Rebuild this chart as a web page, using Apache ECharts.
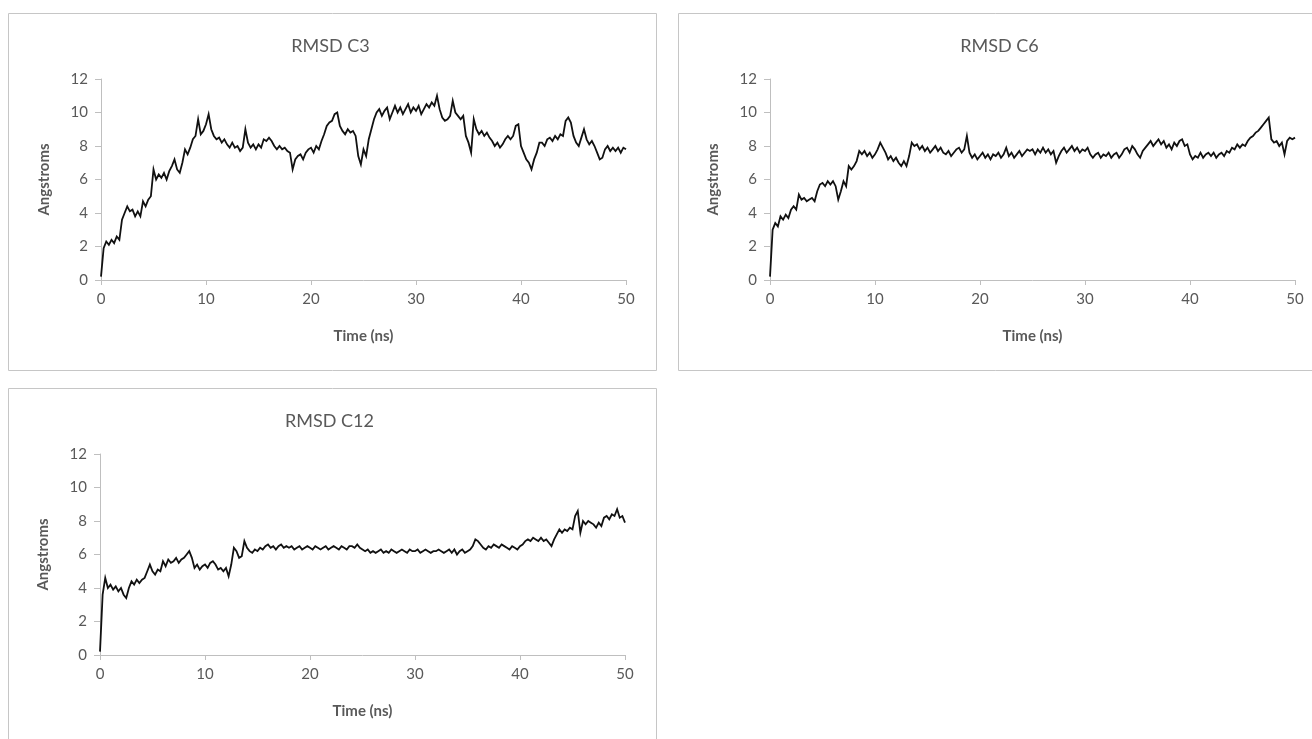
<!DOCTYPE html>
<html>
<head>
<meta charset="utf-8">
<script src="https://cdn.jsdelivr.net/npm/echarts@6/dist/echarts.min.js"></script>
<style>
html,body{margin:0;padding:0;background:#fff;}
#c{width:1312px;height:739px;}
</style>
</head>
<body>
<div id="c"></div>
<script>
// time step between samples (ns)
const timeStep = 0.25;
const titles = ["RMSD C3", "RMSD C6", "RMSD C12"];
const xTicks = [0, 10, 20, 30, 40, 50];
const yTicks = [0, 2, 4, 6, 8, 10, 12];
const xName = "Time (ns)";
const yName = "Angstroms";

const rmsdC3 = [
0.2,1.9,2.3,2.1, 2.4,2.2,2.6,2.4, 3.6,4.0,4.4,4.1, 4.2,3.8,4.1,3.8, 4.7,4.4,4.8,5.0,
6.6,6.0,6.3,6.1, 6.4,6.0,6.5,6.8, 7.2,6.6,6.4,7.0, 7.8,7.5,7.9,8.4, 8.6,9.6,8.7,8.9,
9.3,9.9,9.0,8.6, 8.4,8.5,8.2,8.4, 8.1,7.9,8.2,7.9, 8.0,7.7,7.9,9.0, 8.2,7.9,8.1,7.8,
8.1,7.9,8.4,8.3, 8.5,8.3,8.0,7.8, 8.0,7.8,7.9,7.7, 7.6,6.6,7.2,7.4, 7.5,7.2,7.6,7.8,
7.9,7.6,8.0,7.8, 8.3,8.7,9.2,9.4, 9.5,9.9,10.0,9.2, 8.9,8.7,9.0,8.8, 8.9,8.6,7.4,6.9,
7.8,7.4,8.4,9.0, 9.6,10.0,10.2,9.8, 10.1,10.3,9.6,10.0, 10.4,10.0,10.3,9.9, 10.2,10.5,10.0,10.3,
10.1,10.4,9.9,10.2, 10.5,10.3,10.6,10.4, 11.0,10.2,9.7,9.5, 9.6,9.8,10.7,10.0, 9.8,9.6,9.8,8.6,
8.2,7.6,9.6,9.0, 8.7,8.9,8.6,8.8, 8.5,8.3,8.0,8.2, 7.9,8.1,8.4,8.6, 8.4,8.6,9.2,9.3,
8.0,7.6,7.2,7.0, 6.6,7.2,7.6,8.2, 8.2,8.0,8.4,8.5, 8.3,8.6,8.4,8.7, 8.6,9.5,9.7,9.4,
8.6,8.2,8.0,8.5, 9.0,8.4,8.1,8.3, 8.0,7.6,7.2,7.3, 7.8,8.0,7.7,7.9, 7.7,7.9,7.6,7.9,
7.8
];

const rmsdC6 = [
0.2,3.0,3.4,3.2, 3.8,3.6,3.9,3.7, 4.2,4.4,4.2,5.1, 4.8,4.9,4.7,4.8, 4.9,4.7,5.3,5.7,
5.8,5.6,5.9,5.7, 5.9,5.6,4.8,5.3, 5.9,5.6,6.8,6.6, 6.8,7.1,7.7,7.5, 7.7,7.4,7.6,7.3,
7.5,7.8,8.2,7.9, 7.6,7.2,7.4,7.1, 7.3,7.0,6.8,7.1, 6.8,7.4,8.2,8.0, 8.1,7.8,8.0,7.7,
7.9,7.6,7.8,8.0, 7.7,7.9,7.6,7.5, 7.7,7.4,7.6,7.8, 7.9,7.6,7.8,8.6, 7.6,7.3,7.5,7.2,
7.4,7.6,7.3,7.5, 7.2,7.5,7.4,7.6, 7.3,7.5,7.9,7.4, 7.6,7.3,7.5,7.7, 7.4,7.6,7.8,7.7,
7.8,7.5,7.8,7.6, 7.9,7.6,7.8,7.5, 7.7,7.0,7.4,7.7, 7.9,7.6,7.8,8.0, 7.7,7.9,7.6,7.8,
7.7,7.9,7.5,7.3, 7.5,7.6,7.3,7.5, 7.4,7.6,7.3,7.5, 7.6,7.3,7.5,7.8, 7.9,7.6,8.0,7.8,
7.5,7.3,7.7,7.9, 8.1,8.3,8.0,8.2, 8.4,8.1,8.3,7.9, 8.1,7.8,8.2,8.0, 8.3,8.4,8.0,8.1,
7.5,7.2,7.4,7.3, 7.6,7.3,7.5,7.6, 7.4,7.6,7.3,7.5, 7.6,7.4,7.7,7.6, 7.9,7.8,8.1,7.9,
8.1,8.0,8.3,8.5, 8.6,8.8,8.9,9.1, 9.3,9.5,9.7,8.4, 8.2,8.3,8.0,8.2, 7.5,8.3,8.5,8.4,
8.5
];

const rmsdC12 = [
0.2,3.6,4.6,4.0, 4.2,3.9,4.1,3.8, 4.0,3.6,3.4,4.0, 4.4,4.2,4.5,4.3, 4.5,4.6,5.0,5.4,
5.0,4.8,5.1,5.0, 5.6,5.3,5.7,5.5, 5.6,5.8,5.5,5.7, 5.8,6.0,6.2,5.8, 5.2,5.4,5.1,5.3,
5.4,5.2,5.5,5.6, 5.4,5.1,5.2,5.0, 5.2,4.7,5.4,6.4, 6.2,5.8,5.9,6.8, 6.4,6.2,6.1,6.3,
6.2,6.4,6.3,6.5, 6.6,6.4,6.5,6.3, 6.5,6.6,6.4,6.5, 6.4,6.5,6.3,6.4, 6.5,6.3,6.4,6.5,
6.4,6.3,6.5,6.4, 6.3,6.4,6.5,6.3, 6.4,6.5,6.4,6.3, 6.5,6.4,6.3,6.5, 6.5,6.4,6.6,6.4,
6.3,6.2,6.3,6.1, 6.2,6.1,6.2,6.3, 6.1,6.2,6.1,6.3, 6.2,6.1,6.2,6.3, 6.2,6.1,6.3,6.2,
6.2,6.3,6.1,6.2, 6.3,6.2,6.1,6.2, 6.2,6.3,6.2,6.1, 6.2,6.3,6.1,6.3, 6.0,6.2,6.3,6.1,
6.2,6.3,6.5,6.9, 6.8,6.6,6.4,6.3, 6.5,6.4,6.6,6.5, 6.4,6.6,6.5,6.4, 6.3,6.5,6.4,6.3,
6.5,6.6,6.8,6.9, 6.8,7.0,6.9,6.8, 7.0,6.8,6.9,6.7, 6.5,6.9,7.2,7.5, 7.3,7.5,7.4,7.6,
7.5,8.3,8.6,7.3, 8.0,7.8,8.0,7.9, 7.8,7.6,7.9,7.7, 8.2,8.3,8.1,8.4, 8.3,8.7,8.2,8.3,
7.9
];

const seriesData = [rmsdC3, rmsdC6, rmsdC12];

const font = "Lato, 'Open Sans', sans-serif";
const grey = "#595959";
const axisGrey = "#bfbfbf";

// panel layout (box and plot area)
const panels = [
  {box:[8,13,648,357], grid:{left:101, top:79, width:525, height:201}},
  {box:[678,13,640,357], grid:{left:770, top:79, width:525, height:201}},
  {box:[8,388,648,360], grid:{left:100, top:454, width:525, height:201}}
];

const chart = echarts.init(document.getElementById('c'), null, {renderer:'canvas'});

const option = {
  animation:false,
  backgroundColor:'#fff',
  graphic: panels.map(p => ({
    type:'rect', shape:{x:p.box[0]+0.5, y:p.box[1]+0.5, width:p.box[2], height:p.box[3]},
    style:{fill:'#fff', stroke:'#c6c6c6', lineWidth:1}, z:-10, silent:true
  })),
  title: panels.map((p,i) => ({
    text: titles[i],
    left: p.grid.left + p.grid.width/2 - 38,
    top: p.box[1] + 19,
    textAlign:'center',
    textStyle:{fontFamily:font, fontSize:18, fontWeight:'normal', color:grey}
  })),
  grid: panels.map(p => Object.assign({containLabel:false}, p.grid)),
  xAxis: panels.map((p,i) => ({
    type:'value', gridIndex:i, min:xTicks[0], max:xTicks[xTicks.length-1], interval:10,
    name:xName, nameLocation:'middle', nameGap:49,
    nameTextStyle:{fontFamily:font, fontSize:15, fontWeight:'bold', color:grey},
    axisLine:{show:true, onZero:false, lineStyle:{color:axisGrey, width:1}},
    axisTick:{show:true, length:5, lineStyle:{color:axisGrey}},
    axisLabel:{fontFamily:font, fontSize:15, color:grey, margin:12},
    splitLine:{show:false}
  })),
  yAxis: panels.map((p,i) => ({
    type:'value', gridIndex:i, min:yTicks[0], max:yTicks[yTicks.length-1], interval:2,
    name:yName, nameLocation:'middle', nameGap:49, nameRotate:90,
    nameTextStyle:{fontFamily:font, fontSize:15, fontWeight:'bold', color:grey},
    axisLine:{show:true, lineStyle:{color:axisGrey, width:1}},
    axisTick:{show:true, length:6, lineStyle:{color:axisGrey}},
    axisLabel:{fontFamily:font, fontSize:15, color:grey, margin:13},
    splitLine:{show:false}
  })),
  series: seriesData.map((arr,i) => ({
    type:'line', xAxisIndex:i, yAxisIndex:i, showSymbol:false, symbol:'none',
    data: arr.map((v,k) => [k*timeStep, v]),
    lineStyle:{color:'#111', width:1.8, join:'miter'}, z:5
  }))
};
chart.setOption(option);
</script>
</body>
</html>
